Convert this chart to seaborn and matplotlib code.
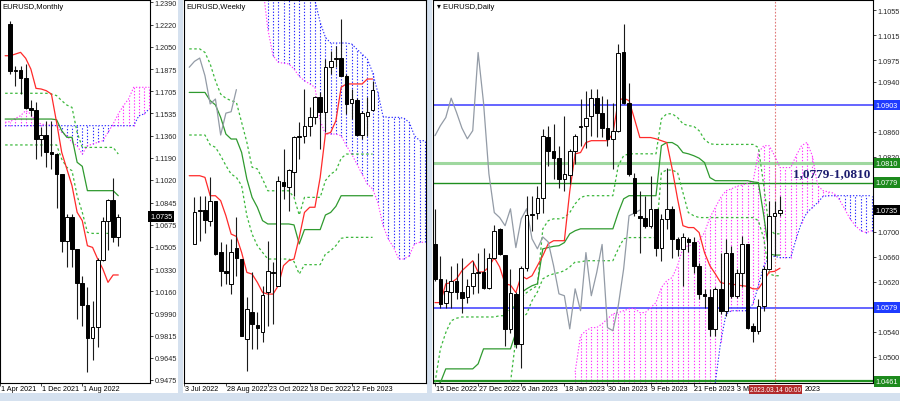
import numpy as np
import pandas as pd
import matplotlib
matplotlib.use("Agg")
import matplotlib.pyplot as plt
import matplotlib.transforms as mtransforms
from matplotlib.patches import Rectangle
import seaborn as sns

sns.set_style("white")
plt.rcParams['font.family'] = ['Liberation Sans', 'DejaVu Sans']

# ------------------------------------------------------------------ DATA
# Monthly (Jun 2021 .. Mar 2023)
m_open = [1.2227, 1.1858, 1.1870, 1.1807, 1.1578, 1.1558, 1.1338, 1.1370, 1.1235, 1.1218, 1.1067,
          1.0545, 1.0733, 1.0484, 1.0225, 1.0054, 0.9802, 0.9884, 1.0405, 1.0705, 1.0863, 1.0576]
m_high = [1.2250, 1.1902, 1.1902, 1.1915, 1.1640, 1.1619, 1.1426, 1.1477, 1.1477, 1.1225, 1.1066,
          1.0760, 1.0757, 1.0487, 1.0280, 1.0190, 1.0088, 1.0420, 1.0731, 1.0870, 1.1032, 1.0757]
m_low = [1.1838, 1.1748, 1.1683, 1.1568, 1.1516, 1.1181, 1.1207, 1.1117, 1.1104, 1.0801, 1.0461,
         1.0345, 1.0345, 0.9946, 0.9894, 0.9534, 0.9629, 0.9727, 1.0396, 1.0481, 1.0543, 1.0512]
m_close = [1.1858, 1.1870, 1.1807, 1.1578, 1.1558, 1.1338, 1.1370, 1.1235, 1.1218, 1.1067, 1.0545,
           1.0733, 1.0484, 1.0225, 1.0054, 0.9802, 0.9884, 1.0405, 1.0705, 1.0863, 1.0576, 1.0735]
m_tenkan = [1.1979, 1.1979, 1.1992, 1.2005, 1.1959, 1.1876, 1.1727, 1.1722, 1.1709, 1.1683, 1.1465,
            1.1233, 1.1104, 1.0976, 1.0770, 1.0705, 1.0512, 1.0499, 1.0409, 1.0332, 1.0229, 1.0286, 1.0286]
m_kijun = [1.1490] * 10 + [1.1485, 1.1400, 1.1349, 1.1349, 1.1156, 1.1125, 1.0937, 1.0937, 1.0937,
                           1.0937, 1.0937, 1.0937, 1.0898]
m_level_hi = [1.1689] * 9 + [1.1683, 1.1671, 1.1632, 1.1598, 1.1580, 1.1387, 1.1271, 1.1271, 1.1271,
                             1.1271, 1.1271, 1.1271, 1.1271, 1.1220]
m_level_lo = [1.1290] * 11 + [1.1181, 1.1117, 1.1091, 1.0898, 1.0770, 1.0615, 1.0607, 1.0607, 1.0607,
                              1.0607, 1.0607, 1.0577]
m_span_a = [1.1465, 1.1470, 1.1495, 1.1516, 1.1555, 1.1529, 1.1470, 1.1452, 1.1444, 1.1444, 1.1439,
            1.1387, 1.1362, 1.1310, 1.1284, 1.1220, 1.1284, 1.1297, 1.1310, 1.1323, 1.1387, 1.1452,
            1.1529, 1.1593, 1.1645, 1.1735, 1.1735, 1.1735, 1.1735]
m_span_b = [1.1439] * 26 + [1.1516, 1.1529, 1.1568]
m_ticks = [1.2390, 1.2220, 1.2050, 1.1875, 1.1705, 1.1535, 1.1360, 1.1190, 1.1020, 1.0845, 1.0675,
           1.0505, 1.0330, 1.0160, 0.9990, 0.9815, 0.9645, 0.9475]
m_xlabels = {-2: "1 Apr 2021", 6: "1 Dec 2021", 14: "1 Aug 2022"}

# Weekly (17 Jul 2022 .. 12 Mar 2023)
w_open = [1.0077, 1.0216, 1.0221, 1.0176, 1.0261, 1.0041, 0.9963, 0.9907, 1.0058, 1.0013, 0.9673,
          0.9786, 0.9733, 0.9701, 0.9871, 0.9954, 0.9900, 1.0339, 1.0318, 1.0381, 1.0532, 1.0537,
          1.0580, 1.0615, 1.0700, 1.0639, 1.0828, 1.0865, 1.0866, 1.0789, 1.0676, 1.0689, 1.0540,
          1.0619, 1.0646]
w_high = [1.0275, 1.0282, 1.0282, 1.0360, 1.0261, 1.0084, 1.0077, 1.0098, 1.0190, 1.0013, 0.9850,
          0.9956, 0.9786, 0.9900, 1.0091, 0.9999, 1.0367, 1.0481, 1.0396, 1.0537, 1.0594, 1.0736,
          1.0658, 1.0707, 1.0721, 1.0863, 1.0898, 1.0920, 1.1033, 1.0799, 1.0736, 1.0696, 1.0643,
          1.0700, 1.0771]
w_low = [1.0077, 1.0091, 1.0123, 1.0155, 1.0030, 0.9900, 0.9907, 0.9864, 0.9942, 0.9687, 0.9536,
         0.9631, 0.9631, 0.9659, 0.9730, 0.9737, 0.9900, 1.0268, 1.0218, 1.0282, 1.0438, 1.0506,
         1.0537, 1.0587, 1.0481, 1.0551, 1.0799, 1.0828, 1.0792, 1.0629, 1.0608, 1.0534, 1.0523,
         1.0537, 1.0643]
w_close = [1.0211, 1.0220, 1.0180, 1.0261, 1.0034, 0.9963, 0.9953, 1.0041, 1.0016, 0.9687, 0.9801,
           0.9737, 0.9718, 0.9860, 0.9963, 0.9958, 1.0346, 1.0322, 1.0393, 1.0530, 1.0536, 1.0580,
           1.0615, 1.0700, 1.0639, 1.0828, 1.0853, 1.0867, 1.0792, 1.0672, 1.0693, 1.0540, 1.0633,
           1.0639, 1.0733]
w_tenkan = [1.0367, 1.0367, 1.0367, 1.0360, 1.0282, 1.0282, 1.0261, 1.0197, 1.0119, 1.0109, 1.0041,
            0.9956, 0.9949, 0.9914, 0.9871, 0.9864, 0.9864, 0.9900, 0.9985, 1.0006, 1.0013, 1.0105,
            1.0211, 1.0233, 1.0233, 1.0360, 1.0544, 1.0551, 1.0601, 1.0743, 1.0757, 1.0757, 1.0757,
            1.0757, 1.0778, 1.0778]
w_kijun = [1.0721, 1.0721, 1.0721, 1.0721, 1.0686, 1.0668, 1.0615, 1.0544, 1.0523, 1.0523, 1.0466,
           1.0353, 1.0275, 1.0233, 1.0176, 1.0162, 1.0162, 1.0162, 1.0162, 1.0162, 1.0158, 1.0077,
           1.0138, 1.0138, 1.0138, 1.0138, 1.0200, 1.0211, 1.0237, 1.0282, 1.0282, 1.0282, 1.0282,
           1.0282, 1.0282, 1.0282]
w_level_hi = [1.0906, 1.0906, 1.0906, 1.0891, 1.0842, 1.0771, 1.0714, 1.0696, 1.0686, 1.0679, 1.0594,
              1.0509, 1.0403, 1.0396, 1.0353, 1.0303, 1.0303, 1.0303, 1.0303, 1.0303, 1.0275, 1.0200,
              1.0275, 1.0275, 1.0275, 1.0275, 1.0346, 1.0374, 1.0388, 1.0441, 1.0459, 1.0459, 1.0459,
              1.0459, 1.0459, 1.0459]
w_level_lo = [1.0540, 1.0540, 1.0540, 1.0540, 1.0498, 1.0488, 1.0452, 1.0410, 1.0374, 1.0360, 1.0325,
              1.0197, 1.0119, 1.0070, 1.0041, 1.0013, 1.0013, 1.0013, 1.0013, 1.0013, 1.0002, 0.9949,
              0.9989, 0.9989, 0.9989, 0.9989, 1.0034, 1.0048, 1.0070, 1.0101, 1.0105, 1.0105, 1.0105,
              1.0105, 1.0105, 1.0105]
w_span_a = [1.1180, 1.0990, 1.0877, 1.0849, 1.0845, 1.0842, 1.0821, 1.0789, 1.0771, 1.0757, 1.0743,
            1.0601, 1.0544, 1.0544, 1.0544, 1.0537, 1.0495, 1.0459, 1.0417, 1.0374, 1.0332, 1.0311,
            1.0254, 1.0155, 1.0098, 1.0063, 1.0013, 1.0013, 1.0027, 1.0077, 1.0084, 1.0084]
w_span_b = [1.1250] * 10 + [1.1111, 1.1019, 1.0955, 1.0931, 1.0931, 1.0931, 1.0931, 1.0927, 1.0905,
                            1.0884, 1.0863, 1.0806, 1.0721, 1.0619, 1.0615, 1.0615, 1.0615, 1.0611,
                            1.0594, 1.0537, 1.0516, 1.0516]
w_xlabels = {-2: "3 Jul 2022", 6: "28 Aug 2022", 14: "23 Oct 2022", 22: "18 Dec 2022", 30: "12 Feb 2023"}

# Daily (15 Dec 2022 .. 15 Mar 2023)
d_open = [1.0681, 1.0625, 1.0586, 1.0604, 1.0622, 1.0604, 1.0596, 1.0613, 1.0634, 1.0636,
          1.0610, 1.0659, 1.0705, 1.0663, 1.0545, 1.0601, 1.0521, 1.0643, 1.0727, 1.0731,
          1.0755, 1.0852, 1.0830, 1.0819, 1.0785, 1.0791, 1.0830, 1.0868, 1.0870, 1.0885,
          1.0914, 1.0891, 1.0866, 1.0849, 1.0862, 1.0988, 1.0906, 1.0787, 1.0726, 1.0723,
          1.0710, 1.0737, 1.0675, 1.0721, 1.0737, 1.0689, 1.0673, 1.0689, 1.0684, 1.0646,
          1.0601, 1.0596, 1.0545, 1.0609, 1.0574, 1.0667, 1.0598, 1.0634, 1.0680, 1.0550,
          1.0542, 1.0582, 1.0641, 1.0726, 1.0730]
d_high = [1.0736, 1.0662, 1.0625, 1.0646, 1.0651, 1.0659, 1.0625, 1.0654, 1.0667, 1.0675,
          1.0667, 1.0711, 1.0706, 1.0663, 1.0641, 1.0604, 1.0646, 1.0758, 1.0758, 1.0774,
          1.0865, 1.0870, 1.0873, 1.0838, 1.0886, 1.0832, 1.0857, 1.0913, 1.0926, 1.0929,
          1.0929, 1.0917, 1.0913, 1.0907, 1.1001, 1.1033, 1.0939, 1.0795, 1.0766, 1.0758,
          1.0790, 1.0737, 1.0729, 1.0803, 1.0742, 1.0692, 1.0698, 1.0692, 1.0692, 1.0651,
          1.0609, 1.0609, 1.0612, 1.0667, 1.0689, 1.0678, 1.0641, 1.0694, 1.0680, 1.0555,
          1.0593, 1.0646, 1.0750, 1.0750, 1.0758]
d_low = [1.0622, 1.0579, 1.0579, 1.0579, 1.0593, 1.0571, 1.0587, 1.0601, 1.0603, 1.0608,
         1.0609, 1.0657, 1.0663, 1.0518, 1.0539, 1.0515, 1.0482, 1.0638, 1.0702, 1.0721,
         1.0731, 1.0806, 1.0785, 1.0771, 1.0766, 1.0777, 1.0809, 1.0838, 1.0835, 1.0854,
         1.0852, 1.0852, 1.0838, 1.0801, 1.0860, 1.0905, 1.0790, 1.0726, 1.0667, 1.0707,
         1.0707, 1.0662, 1.0654, 1.0705, 1.0659, 1.0662, 1.0614, 1.0668, 1.0635, 1.0593,
         1.0579, 1.0534, 1.0534, 1.0569, 1.0566, 1.0595, 1.0595, 1.0612, 1.0545, 1.0524,
         1.0537, 1.0574, 1.0639, 1.0662, 1.0726]
d_close = [1.0625, 1.0585, 1.0606, 1.0621, 1.0604, 1.0595, 1.0613, 1.0634, 1.0636, 1.0610,
           1.0659, 1.0702, 1.0665, 1.0545, 1.0603, 1.0521, 1.0643, 1.0727, 1.0729, 1.0755,
           1.0853, 1.0830, 1.0818, 1.0785, 1.0793, 1.0830, 1.0854, 1.0870, 1.0883, 1.0914,
           1.0891, 1.0866, 1.0849, 1.0862, 1.0987, 1.0907, 1.0793, 1.0731, 1.0723, 1.0710,
           1.0737, 1.0675, 1.0721, 1.0737, 1.0689, 1.0673, 1.0692, 1.0684, 1.0646, 1.0601,
           1.0598, 1.0545, 1.0609, 1.0574, 1.0667, 1.0598, 1.0635, 1.0680, 1.0547, 1.0542,
           1.0582, 1.0641, 1.0726, 1.0730, 1.0735]
d_tenkan = [1.0587, 1.0587, 1.0617, 1.0619, 1.0625, 1.0638, 1.0646, 1.0654, 1.0636, 1.0636,
            1.0644, 1.0659, 1.0644, 1.0617, 1.0615, 1.0603, 1.0630, 1.0625, 1.0630, 1.0646,
            1.0662, 1.0681, 1.0686, 1.0686, 1.0686, 1.0765, 1.0825, 1.0827, 1.0843, 1.0846,
            1.0846, 1.0846, 1.0846, 1.0857, 1.0910, 1.0914, 1.0910, 1.0881, 1.0851, 1.0851,
            1.0851, 1.0849, 1.0846, 1.0843, 1.0801, 1.0753, 1.0710, 1.0707, 1.0707, 1.0699,
            1.0667, 1.0646, 1.0633, 1.0619, 1.0617, 1.0617, 1.0615, 1.0614, 1.0613, 1.0609,
            1.0609, 1.0622, 1.0636, 1.0637, 1.0642]
d_kijun = [1.0454, 1.0459, 1.0481, 1.0481, 1.0481, 1.0481, 1.0481, 1.0481, 1.0489, 1.0513,
           1.0513, 1.0513, 1.0513, 1.0513, 1.0513, 1.0539, 1.0603, 1.0609, 1.0614, 1.0617,
           1.0673, 1.0675, 1.0677, 1.0678, 1.0683, 1.0697, 1.0702, 1.0705, 1.0705, 1.0705,
           1.0705, 1.0705, 1.0705, 1.0705, 1.0731, 1.0753, 1.0758, 1.0758, 1.0758, 1.0758,
           1.0758, 1.0758, 1.0838, 1.0843, 1.0843, 1.0838, 1.0827, 1.0825, 1.0822, 1.0818,
           1.0811, 1.0787, 1.0782, 1.0782, 1.0782, 1.0782, 1.0782, 1.0782, 1.0782, 1.0780,
           1.0779, 1.0726, 1.0665, 1.0663, 1.0663]
d_level_hi = [1.0459, 1.0513, 1.0539, 1.0558, 1.0562, 1.0564, 1.0564, 1.0564, 1.0564, 1.0564,
              1.0564, 1.0564, 1.0566, 1.0566, 1.0577, 1.0582, 1.0595, 1.0603, 1.0609, 1.0614,
              1.0705, 1.0718, 1.0721, 1.0721, 1.0723, 1.0731, 1.0745, 1.0755, 1.0758, 1.0758,
              1.0758, 1.0758, 1.0758, 1.0758, 1.0806, 1.0822, 1.0825, 1.0825, 1.0825, 1.0825,
              1.0825, 1.0825, 1.0881, 1.0889, 1.0889, 1.0883, 1.0873, 1.0870, 1.0869, 1.0862,
              1.0848, 1.0841, 1.0840, 1.0840, 1.0840, 1.0840, 1.0840, 1.0840, 1.0840, 1.0840,
              1.0835, 1.0774, 1.0705, 1.0697, 1.0697]
d_level_lo = [1.0400] * 14 + [1.0459, 1.0529, 1.0561, 1.0569, 1.0590, 1.0604,
                              1.0625, 1.0630, 1.0633, 1.0635, 1.0638, 1.0644, 1.0652, 1.0652, 1.0654, 1.0654,
                              1.0654, 1.0654, 1.0654, 1.0654, 1.0673, 1.0689, 1.0691, 1.0691, 1.0691, 1.0691,
                              1.0691, 1.0691, 1.0795, 1.0799, 1.0799, 1.0795, 1.0763, 1.0731, 1.0726, 1.0723,
                              1.0723, 1.0723, 1.0723, 1.0723, 1.0723, 1.0723, 1.0723, 1.0723, 1.0723, 1.0723,
                              1.0718, 1.0689, 1.0633, 1.0630, 1.0630]
d_span_a = [1.0476, 1.0534, 1.0542, 1.0547, 1.0547, 1.0553, 1.0561, 1.0569, 1.0571, 1.0574,
            1.0577, 1.0578, 1.0571, 1.0571, 1.0579, 1.0587, 1.0611, 1.0622, 1.0627, 1.0646,
            1.0675, 1.0678, 1.0679, 1.0686, 1.0699, 1.0723, 1.0739, 1.0755, 1.0766, 1.0769,
            1.0773, 1.0775, 1.0778, 1.0780, 1.0827, 1.0838, 1.0838, 1.0822, 1.0803, 1.0803,
            1.0803, 1.0822, 1.0838, 1.0843, 1.0822, 1.0774, 1.0766, 1.0764, 1.0762, 1.0752,
            1.0737, 1.0721, 1.0710, 1.0702, 1.0699, 1.0702]
d_span_b = [1.0400] * 26 + [1.0459, 1.0524, 1.0569, 1.0574, 1.0574, 1.0574, 1.0574, 1.0585, 1.0614,
                            1.0646, 1.0659, 1.0661, 1.0659, 1.0659, 1.0659, 1.0689, 1.0715, 1.0731,
                            1.0739, 1.0747, 1.0757, 1.0758, 1.0758, 1.0758, 1.0758, 1.0758, 1.0758,
                            1.0758, 1.0758, 1.0758]
d_ticks = [1.1055, 1.1015, 1.0975, 1.0940, 1.0900, 1.0860, 1.0820, 1.0780, 1.0740, 1.0700, 1.0660,
           1.0620, 1.0580, 1.0540, 1.0500]
d_hidden_ticks = [1.0900, 1.0780, 1.0740, 1.0580]   # covered by the level boxes in the reference
d_xlabels = {0: "15 Dec 2022", 8: "27 Dec 2022", 16: "6 Jan 2023", 24: "18 Jan 2023",
             32: "30 Jan 2023", 40: "9 Feb 2023", 48: "21 Feb 2023", 56: "3 M", 68.4: "2023"}
d_levels = {"1.0903": 1.0903, "1.0810": 1.0810, "1.0779": 1.0779, "1.0579": 1.0579, "1.0461": 1.0461}
zone_text = "1,0779-1,0810"
current_price = 1.0735
cursor_bar = 63
cursor_label = "2023.03.14 00:00"

# ------------------------------------------------------------------ STYLE
W, H = 900, 402
fig = plt.figure(figsize=(W / 100, H / 100), dpi=100)
fig.patch.set_facecolor('#d5e1ef')

def frect(x0, y0, x1, y1, **kw):
    fig.patches.append(Rectangle((x0 / W, 1 - y1 / H), (x1 - x0) / W, (y1 - y0) / H,
                                 transform=fig.transFigure, **kw))

frect(0, 0, 178, 394, fc='white', ec='none', zorder=-10)
frect(183, 0, 427, 394, fc='white', ec='none', zorder=-10)
frect(432, 0, 900, 394, fc='white', ec='none', zorder=-10)

def make_ax(x0, x1, y0=1, y1=384):
    a = fig.add_axes([x0 / W, 1 - y1 / H, (x1 - x0) / W, (y1 - y0) / H])
    a.set_zorder(5)
    return a

ax1 = make_ax(0, 150)
ax2 = make_ax(184, 426)
ax3 = make_ax(433, 873)

FS = 5.2
RED = '#ff2a2a'
KIJ = '#2f9a2f'
LEV = '#3cb83c'
GRAY = '#939ba6'
PINK = '#ff33ff'
BLUE = '#2a2aff'


def line(ax, x, y, color, lw=0.9, ls='-'):
    sns.lineplot(x=list(x), y=list(y), ax=ax, color=color, lw=lw, linestyle=ls,
                 sort=False, estimator=None, legend=False, zorder=2)


def cloud(ax, x, a, b):
    x = np.asarray(x, float); a = np.asarray(a); b = np.asarray(b)
    cols = [PINK if ai >= bi else BLUE for ai, bi in zip(a, b)]
    ax.vlines(x, np.minimum(a, b), np.maximum(a, b), colors=cols,
              linestyles=(0, (1.2, 1.6)), lw=0.8, zorder=1)
    line(ax, x, a, PINK, lw=0.8, ls=(0, (1.2, 1.6)))
    line(ax, x, b, BLUE, lw=0.8, ls=(0, (1.2, 1.6)))


def candles(ax, o, h, l, c, w):
    o, h, l, c = map(np.asarray, (o, h, l, c))
    x = np.arange(len(o))
    ax.vlines(x, l, h, color='#1a1a1a', lw=0.8, zorder=3)
    up = c >= o
    bottom = np.minimum(o, c)
    height = np.maximum(np.abs(c - o), 1e-5)
    ax.bar(x[up], height[up], bottom=bottom[up], width=w, color='white',
           edgecolor='black', lw=0.7, zorder=4)
    ax.bar(x[~up], height[~up], bottom=bottom[~up], width=w, color='black',
           edgecolor='black', lw=0.7, zorder=4)


def xlabels(ax, labels, off, clip_px=None):
    tr = mtransforms.blended_transform_factory(ax.transData, ax.transAxes)
    ticks = [k for k in labels if float(k).is_integer()]
    ax.set_xticks(ticks)
    ax.set_xticklabels([''] * len(ticks))
    ax.tick_params(axis='x', length=2.5, width=0.6, direction='out', bottom=True)
    for k, s in labels.items():
        t = ax.text(k + off, -0.006, s, transform=tr, ha='left', va='top', fontsize=FS,
                    clip_on=False, color='black')
        if clip_px is not None:
            r = Rectangle((clip_px[0] / W, 0), (clip_px[1] - clip_px[0]) / W, 1,
                          transform=fig.transFigure, fc='none', ec='none')
            t.set_clip_path(r)
            t.set_clip_on(True)


def style(ax, xlim, ylim):
    ax.set_xlim(*xlim)
    ax.set_ylim(*ylim)
    ax.set_facecolor('white')
    for s in ax.spines.values():
        s.set_color('black')
        s.set_linewidth(0.8)
    ax.set_xlabel('')
    ax.set_ylabel('')


# ---------------- Monthly
xm = np.arange(-1, 22)
cloud(ax1, np.arange(-1, 28), m_span_a, m_span_b)
line(ax1, xm, m_level_hi, LEV, ls=(0, (2, 2)))
line(ax1, xm, m_level_lo, LEV, ls=(0, (2, 2)))
line(ax1, xm, m_kijun, KIJ)
line(ax1, xm, m_tenkan, RED)
candles(ax1, m_open, m_high, m_low, m_close, 0.74)
style(ax1, (-0.61, 27.17), (0.94518, 1.24093))
ax1.yaxis.tick_right()
ax1.set_yticks(m_ticks)
ax1.set_yticklabels([f"{v:.4f}" for v in m_ticks])
ax1.tick_params(axis='y', length=2, width=0.6, pad=1.5, labelsize=FS, right=True)
xlabels(ax1, m_xlabels, 0.15, clip_px=(0, 178))
ax1.text(0.015, 0.992, "EURUSD,Monthly", transform=ax1.transAxes, ha='left', va='top',
         fontsize=FS + 0.3, color='black')
ax1.text(1.0, current_price, f"{current_price:.4f}",
         transform=mtransforms.blended_transform_factory(ax1.transAxes, ax1.transData),
         ha='left', va='center', fontsize=FS, color='white', clip_on=False, zorder=10,
         bbox=dict(boxstyle='square,pad=0.3', fc='black', ec='none'))

# ---------------- Weekly
xw = np.arange(-1, 35)
cloud(ax2, np.arange(13, 45), w_span_a, w_span_b)
line(ax2, xw, w_level_hi, LEV, ls=(0, (2, 2)))
line(ax2, xw, w_level_lo, LEV, ls=(0, (2, 2)))
line(ax2, xw, w_kijun, KIJ)
line(ax2, xw, w_tenkan, RED)
w_chikou = w_close[25:35]
line(ax2, np.arange(-1, 9), w_chikou, GRAY)
candles(ax2, w_open, w_high, w_low, w_close, 0.7)
style(ax2, (-0.61, 44.2), (0.94861, 1.11138))
ax2.set_yticks([])
xlabels(ax2, w_xlabels, 0.15, clip_px=(183, 427))
ax2.text(0.01, 0.992, "EURUSD,Weekly", transform=ax2.transAxes, ha='left', va='top',
         fontsize=FS + 0.3, color='black')

# ---------------- Daily
xd = np.arange(0, 65)
cloud(ax3, np.arange(26, 82), d_span_a, d_span_b)
line(ax3, xd, d_level_hi, LEV, ls=(0, (2, 2)))
line(ax3, xd, d_level_lo, LEV, ls=(0, (2, 2)))
line(ax3, xd, d_kijun, KIJ)
line(ax3, xd, d_tenkan, RED)
d_chikou = d_close[26:65]
line(ax3, np.arange(0, 39), d_chikou, GRAY)
level_style = {"1.0903": ('#3b3bff', 1.1), "1.0810": ('#9fd89f', 2.2), "1.0779": ('#1f8f1f', 1.0),
               "1.0579": ('#3b3bff', 1.1), "1.0461": ('#1f8f1f', 1.6)}
for name, v in d_levels.items():
    c, lw = level_style[name]
    ax3.axhline(v, color=c, lw=lw, zorder=1.5)
ax3.axvline(cursor_bar, color='#e07a7a', lw=0.8, ls=(0, (1.5, 1.5)), zorder=1.6)
candles(ax3, d_open, d_high, d_low, d_close, 0.68)
style(ax3, (-0.371, 81.26), (1.04584, 1.10710))
ax3.yaxis.tick_right()
ax3.set_yticks(d_ticks)
ax3.set_yticklabels(['' if v in d_hidden_ticks else f"{v:.4f}" for v in d_ticks])
ax3.tick_params(axis='y', length=2, width=0.6, pad=1.5, labelsize=FS, right=True)
xlabels(ax3, d_xlabels, 0.1)
ax3.text(0.008, 0.992, "\u25BE EURUSD,Daily", transform=ax3.transAxes, ha='left', va='top',
         fontsize=FS + 0.3, color='black')
ax3.text(66.5, 1.0794, zone_text, ha='left', va='center', fontsize=9.5, fontweight='bold',
         family='Liberation Serif', color='#1c1c6e', zorder=8)

trY = mtransforms.blended_transform_factory(ax3.transAxes, ax3.transData)
box_col = {"1.0903": '#1f3cff', "1.0810": '#1d8a1d', "1.0779": '#1d8a1d', "1.0579": '#1f3cff',
           "1.0461": '#1d8a1d'}
for name, v in d_levels.items():
    ax3.text(1.006, v, name, transform=trY, ha='left', va='center', fontsize=FS, color='white',
             clip_on=False, zorder=10,
             bbox=dict(boxstyle='square,pad=0.25', fc=box_col[name], ec='none'))
ax3.text(1.006, current_price, f"{current_price:.4f}", transform=trY, ha='left', va='center',
         fontsize=FS, color='white', clip_on=False, zorder=10,
         bbox=dict(boxstyle='square,pad=0.25', fc='black', ec='none'))
trX = mtransforms.blended_transform_factory(ax3.transData, ax3.transAxes)
ax3.text(cursor_bar + 0.25, -0.008, cursor_label, transform=trX, ha='center', va='top',
         fontsize=4.8, color='white', clip_on=False, zorder=10,
         bbox=dict(boxstyle='square,pad=0.15', fc='#b22a2a', ec='none'))

fig.savefig("out.png", dpi=100, facecolor=fig.get_facecolor())
